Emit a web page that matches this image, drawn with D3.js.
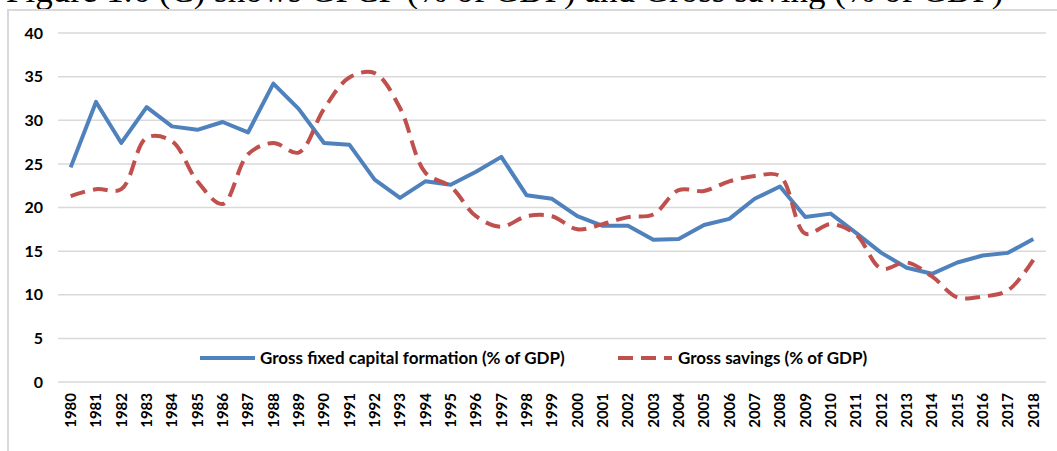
<!DOCTYPE html>
<html>
<head>
<meta charset="utf-8">
<script src="https://cdn.jsdelivr.net/npm/d3@7"></script>
<style>
  body { margin: 0; background: #fff; }
  svg { display: block; }
</style>
</head>
<body>
<div id="chart"></div>
<script>
const years = [1980, 1981, 1982, 1983, 1984, 1985, 1986, 1987, 1988, 1989,
    1990, 1991, 1992, 1993, 1994, 1995, 1996, 1997, 1998, 1999,
    2000, 2001, 2002, 2003, 2004, 2005, 2006, 2007, 2008, 2009,
    2010, 2011, 2012, 2013, 2014, 2015, 2016, 2017, 2018]

// Gross fixed capital formation (% of GDP)
const gfcf = [24.6, 32.1, 27.4, 31.5, 29.3, 28.9, 29.8, 28.6, 34.2, 31.3,
    27.4, 27.2, 23.2, 21.1, 23.0, 22.6, 24.1, 25.8, 21.4, 21.0,
    19.0, 17.9, 17.9, 16.3, 16.4, 18.0, 18.7, 21.0, 22.4, 18.9,
    19.3, 17.1, 14.8, 13.1, 12.4, 13.7, 14.5, 14.8, 16.4]

// Gross savings (% of GDP)
const savings = [21.3, 22.1, 22.1, 28.0, 27.6, 23.0, 20.4, 26.1, 27.4, 26.3,
    31.3, 34.9, 35.4, 31.4, 24.0, 22.4, 19.0, 17.8, 19.0, 19.0,
    17.5, 18.1, 18.9, 19.2, 22.0, 21.9, 23.0, 23.6, 23.6, 17.0,
    18.1, 16.9, 13.0, 13.7, 12.1, 9.7, 9.8, 10.5, 14.0]

const yTicks = [0, 5, 10, 15, 20, 25, 30, 35, 40]
const seriesNames = ["Gross fixed capital formation (% of GDP)", "Gross savings (% of GDP)"]
const captionText = "Figure 1.6 (C) shows GFCF (% of GDP) and Gross saving (% of GDP)"

const width = 1057, height = 451
const blue = "#4f81bd", red = "#c0504d", grid = "#d9d9d9"
const font = "Lato, 'Open Sans', sans-serif"

const svg = d3.select("#chart").append("svg")
    .attr("width", width)
    .attr("height", height)

// caption line of the page above, mostly cut off by the top edge
svg.append("text")
    .attr("x", 6)
    .attr("y", 2)
    .style("font", "35px 'Liberation Serif', serif")
    .attr("fill", "#000")
    .text(captionText)

// chart frame
svg.append("path")
    .attr("d", "M8," + height + "V10H" + width)
    .attr("fill", "none")
    .attr("stroke", grid)
    .attr("stroke-width", 2)

const x = d3.scaleBand().domain(years).range([58, 1046])
const y = d3.scaleLinear().domain([0, 40]).range([382, 33])
const cx = d => x(d) + x.bandwidth() / 2

// gridlines
svg.append("g")
    .selectAll("line")
    .data(yTicks)
    .enter()
    .append("line")
    .attr("x1", 58)
    .attr("x2", 1046)
    .attr("y1", d => y(d))
    .attr("y2", d => y(d))
    .attr("stroke", grid)
    .attr("stroke-width", 1.5)

// y axis labels
const yaxis = d3.axisLeft(y).tickValues(yTicks).tickSize(0).tickPadding(0)
svg.append("g")
    .attr("transform", "translate(43,0)")
    .call(yaxis)
    .call(g => g.select(".domain").remove())
    .selectAll("text")
    .style("font", "bold 16px " + font)
    .attr("fill", "#000")

// x axis labels, rotated
const xaxis = d3.axisBottom(x).tickSize(0).tickPadding(0)
svg.append("g")
    .attr("transform", "translate(0,393)")
    .call(xaxis)
    .call(g => g.select(".domain").remove())
    .selectAll("text")
    .style("font", "bold 15px " + font)
    .attr("fill", "#000")
    .attr("text-anchor", "end")
    .attr("transform", "rotate(-90)")
    .attr("x", 0)
    .attr("y", 0)
    .attr("dy", "0.36em")

// lines
svg.append("path")
    .datum(gfcf)
    .attr("fill", "none")
    .attr("stroke", blue)
    .attr("stroke-width", 4)
    .attr("stroke-linejoin", "round")
    .attr("d", d3.line()
        .x((d, i) => cx(years[i]))
        .y(d => y(d)))

svg.append("path")
    .datum(savings)
    .attr("fill", "none")
    .attr("stroke", red)
    .attr("stroke-width", 4)
    .attr("stroke-dasharray", "15,8")
    .attr("d", d3.line()
        .curve(d3.curveCatmullRom)
        .x((d, i) => cx(years[i]))
        .y(d => y(d)))

// legend
const legend = svg.append("g").attr("transform", "translate(0,358)")
legend.append("line")
    .attr("x1", 200).attr("x2", 255)
    .attr("stroke", blue).attr("stroke-width", 4)
legend.append("text")
    .attr("x", 260).attr("dy", "0.35em")
    .style("font", "bold 17px " + font)
    .text(seriesNames[0])
legend.append("line")
    .attr("x1", 618).attr("x2", 672)
    .attr("stroke", red).attr("stroke-width", 4)
    .attr("stroke-dasharray", "15,8")
legend.append("text")
    .attr("x", 678).attr("dy", "0.35em")
    .style("font", "bold 17px " + font)
    .text(seriesNames[1])
</script>
</body>
</html>
